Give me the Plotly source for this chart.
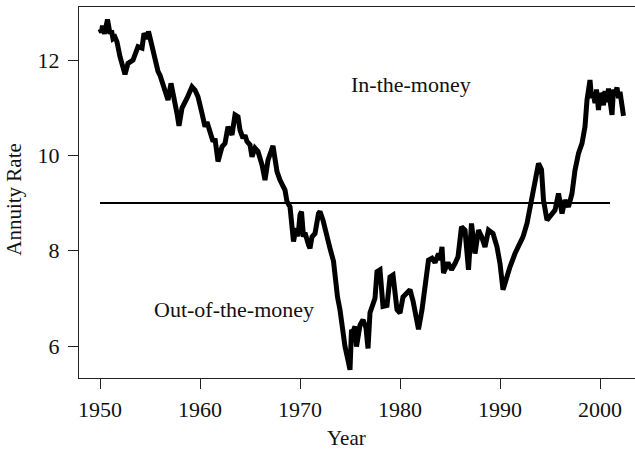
import plotly.graph_objects as go

# Annuity rate series (year, percent)
years = [
    1950.0, 1950.15, 1950.25, 1950.45, 1950.75, 1951.0, 1951.15, 1951.3, 1951.5, 1951.7,
    1952.0, 1952.3, 1952.5, 1952.8, 1953.3, 1953.8, 1954.2, 1954.4, 1954.7, 1954.85,
    1955.2, 1955.5, 1955.8, 1956.0, 1956.2, 1956.5, 1956.8, 1957.1, 1957.4, 1957.7,
    1957.9, 1958.2, 1958.7, 1959.0, 1959.2, 1959.5, 1959.8, 1960.2, 1960.5, 1960.7,
    1961.0, 1961.3, 1961.5, 1961.7, 1961.8, 1962.2, 1962.5, 1962.8, 1963.2, 1963.5,
    1963.8, 1964.0, 1964.3, 1964.5, 1964.7, 1965.0, 1965.2, 1965.5, 1965.8, 1966.2,
    1966.5, 1966.8, 1967.3, 1967.7, 1968.0, 1968.5, 1968.7, 1969.0, 1969.2, 1969.35,
    1969.6, 1969.8, 1970.0, 1970.15, 1970.35, 1970.5, 1970.85, 1971.0, 1971.2, 1971.5,
    1971.85, 1972.0, 1972.3, 1972.65, 1973.0, 1973.35, 1973.6, 1973.75, 1974.0, 1974.2,
    1974.5, 1974.8, 1975.0, 1975.15, 1975.3, 1975.5, 1975.65, 1976.0, 1976.3, 1976.6,
    1976.8, 1977.0, 1977.3, 1977.5, 1977.7, 1978.0, 1978.3, 1978.7, 1979.0, 1979.3,
    1979.7, 1980.0, 1980.3, 1980.7, 1981.0, 1981.3, 1981.7, 1981.85, 1982.2, 1982.5,
    1982.85, 1983.2, 1983.5, 1983.85, 1984.0, 1984.2, 1984.35, 1984.8, 1985.15, 1985.5,
    1985.8, 1986.15, 1986.5, 1986.85, 1987.15, 1987.5, 1987.85, 1988.15, 1988.5, 1988.85,
    1989.3, 1989.7, 1990.0, 1990.3, 1990.65, 1991.0, 1991.5, 1991.85, 1992.3, 1992.7,
    1993.0, 1993.5, 1993.85, 1994.15, 1994.35, 1994.7, 1995.2, 1995.5, 1995.85, 1996.2,
    1996.5, 1996.85, 1997.2, 1997.5, 1997.85, 1998.2, 1998.5, 1998.7, 1999.0, 1999.15,
    1999.3, 1999.5, 1999.65, 1999.85, 2000.0, 2000.2, 2000.35, 2000.5, 2000.7, 2000.85,
    2001.0, 2001.2, 2001.35, 2001.5, 2001.7, 2001.85, 2002.0, 2002.2, 2002.35,
]
rates = [
    12.65, 12.58, 12.72, 12.55, 12.85, 12.55, 12.62, 12.45, 12.48, 12.38,
    12.07, 11.86, 11.70, 11.93, 12.00, 12.28, 12.25, 12.56, 12.45, 12.60,
    12.28, 12.00, 11.76, 11.68, 11.54, 11.34, 11.16, 11.51, 11.23, 10.88,
    10.62, 10.99, 11.20, 11.37, 11.44, 11.37, 11.23, 10.88, 10.60, 10.70,
    10.53, 10.29, 10.35, 9.94, 9.87, 10.18, 10.25, 10.60, 10.43, 10.85,
    10.81, 10.53, 10.36, 10.42, 10.29, 10.22, 9.97, 10.15, 10.08, 9.80,
    9.48, 9.90, 10.20, 9.66, 9.48, 9.27, 9.03, 8.92, 8.50, 8.19,
    8.47, 8.30, 8.75, 8.82, 8.29, 8.38, 8.12, 8.05, 8.29, 8.36,
    8.78, 8.82, 8.64, 8.29, 8.05, 7.78, 7.20, 7.03, 6.76, 6.35,
    5.99, 5.70, 5.50, 6.34, 6.30, 6.41, 5.99, 6.44, 6.55, 6.38,
    5.95, 6.70, 6.93, 7.00, 7.56, 7.60, 6.83, 6.85, 7.45, 7.49,
    6.76, 6.69, 7.03, 7.10, 7.18, 6.95, 6.55, 6.35, 6.76, 7.24,
    7.80, 7.84, 7.75, 7.94, 7.80, 8.08, 7.53, 7.75, 7.60, 7.73,
    7.87, 8.50, 8.43, 7.60, 8.57, 7.94, 8.43, 8.30, 8.08, 8.43,
    8.36, 8.08, 7.73, 7.18, 7.45, 7.66, 7.94, 8.08, 8.29, 8.57,
    8.90, 9.34, 9.83, 9.70, 9.06, 8.64, 8.78, 8.85, 9.20, 8.78,
    9.06, 8.92, 9.20, 9.69, 10.04, 10.25, 10.60, 11.16, 11.58, 11.20,
    11.32, 11.10, 11.38, 10.95, 11.30, 11.23, 11.05, 11.35, 11.12, 11.40,
    11.15, 10.85, 11.38, 11.30, 11.42, 11.20, 11.33, 11.09, 10.83,
]

# Guaranteed (strike) rate
strike_rate = 9.0
strike_span = [1950, 2001]

x_ticks = [1950, 1960, 1970, 1980, 1990, 2000]
y_ticks = [6, 8, 10, 12]

label_in = "In-the-money"
label_out = "Out-of-the-money"
x_title = "Year"
y_title = "Annuity Rate"

serif = "Liberation Serif, Times New Roman, serif"
ink = "#111"

fig = go.Figure()
fig.add_trace(go.Scatter(
    x=strike_span, y=[strike_rate, strike_rate], mode="lines",
    line=dict(color="black", width=2.2), hoverinfo="skip", showlegend=False,
))
fig.add_trace(go.Scatter(
    x=years, y=rates, mode="lines",
    line=dict(color="black", width=5, shape="linear"),
    showlegend=False,
))

fig.add_annotation(x=1981.1, y=11.48, text=label_in, showarrow=False,
                   font=dict(family=serif, size=22, color=ink))
fig.add_annotation(x=1963.4, y=6.76, text=label_out, showarrow=False,
                   font=dict(family=serif, size=22, color=ink))

# axis titles, positioned in paper coordinates
fig.add_annotation(x=0.482, y=-0.162, xref="paper", yref="paper", text=x_title,
                   xanchor="center", yanchor="middle", showarrow=False,
                   font=dict(family=serif, size=21, color=ink))
fig.add_annotation(x=-0.117, y=0.483, xref="paper", yref="paper", text=y_title,
                   xanchor="center", yanchor="middle", textangle=-90, showarrow=False,
                   font=dict(family=serif, size=21, color=ink))

axis_common = dict(
    showgrid=False, zeroline=False, showline=True, linecolor="#222", linewidth=1,
    ticks="outside", ticklen=10, tickwidth=1, tickcolor="#222",
    tickfont=dict(family=serif, size=22, color=ink),
)

fig.update_layout(
    width=635, height=449,
    margin=dict(l=79, r=0, t=7, b=71),
    paper_bgcolor="white", plot_bgcolor="white",
    xaxis=dict(range=[1947.9, 2003.5], tickvals=x_ticks, mirror=True,
               ticklabelstandoff=2, **axis_common),
    yaxis=dict(range=[5.329, 13.112], tickvals=y_ticks,
               ticklabelstandoff=4, **axis_common),
)

fig.write_html("out.html")
